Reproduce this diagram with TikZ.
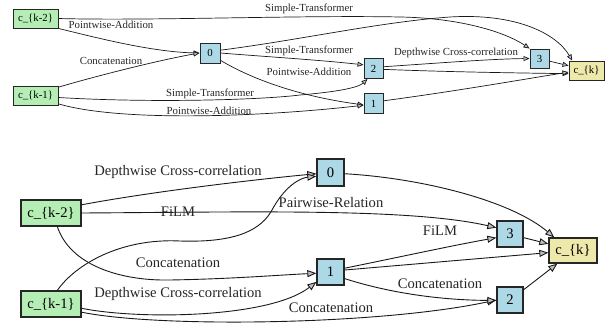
\documentclass[tikz,border=0pt]{standalone}
\usepackage{fontspec}
\setmainfont{Liberation Serif}
\usetikzlibrary{arrows.meta}
\definecolor{ingreen}{HTML}{B4EEB4}
\definecolor{midblue}{HTML}{ADD8E6}
\definecolor{outyellow}{HTML}{EEE8AA}
\definecolor{headgray}{HTML}{C0C0C0}
\tikzset{
  tnode/.style={draw=black!85, line width=0.95pt, inner sep=0pt, font=\fontsize{10.8}{12}\selectfont},
  bnode/.style={draw=black!85, line width=1.3pt, inner sep=0pt, font=\fontsize{14.6}{16}\selectfont},
  innode/.style={fill=ingreen},
  midnode/.style={fill=midblue},
  outnode/.style={fill=outyellow},
  tedge/.style={draw=black!90, line width=0.7pt, -{Triangle[length=6pt,width=5pt,fill=headgray]}},
  bedge/.style={draw=black!90, line width=0.9pt, -{Triangle[length=9pt,width=7pt,fill=headgray]}},
  tlab/.style={font=\fontsize{10.8}{12}\selectfont, inner sep=0pt, text=black!85},
  blab/.style={font=\fontsize{14.6}{16}\selectfont, inner sep=0pt, text=black!85},
}
\begin{document}
\begin{tikzpicture}[x=1pt,y=-1pt]
\useasboundingbox (0,0) rectangle (613,323);
% ---------- top cell ----------
\node[tnode,innode,minimum width=45pt,minimum height=19pt] (tk2) at (35.5,18.5) {c\_\{k-2\}};
\node[tnode,innode,minimum width=45pt,minimum height=19pt] (tk1) at (35.5,95.5) {c\_\{k-1\}};
\node[tnode,midnode,minimum width=20pt,minimum height=20pt] (t0) at (210,53) {0};
\node[tnode,midnode,minimum width=19pt,minimum height=20pt] (t2) at (373.5,68.5) {2};
\node[tnode,midnode,minimum width=19pt,minimum height=20pt] (t1) at (373.5,103.5) {1};
\node[tnode,midnode,minimum width=19pt,minimum height=19pt] (t3) at (539.5,58.5) {3};
\node[tnode,outnode,minimum width=35pt,minimum height=19pt] (tk) at (586.5,70.5) {c\_\{k\}};

\path[tedge] (tk2.east) .. controls (150,21) and (300,15) .. (400,17) .. controls (460,18) and (505,32) .. (t3.north west);
\path[tedge] (tk2.south east) .. controls (90,36) and (150,52) .. (t0.west);
\path[tedge] (tk1.20) .. controls (100,75) and (160,60) .. (t0.west);
\path[tedge] (t0.east) .. controls (270,57) and (320,60) .. (t2.160);
\path[tedge] (t0.-35) .. controls (245,75) and (290,95) .. (t1.-172);
\path[tedge] (t0.15) .. controls (300,40) and (380,22) .. (450,17) .. controls (515,13) and (556,33) .. (tk.145);
\path[tedge] (tk1.-5) .. controls (150,103) and (260,100) .. (300,95) .. controls (335,92) and (358,88) .. (t2.-120);
\path[tedge] (tk1.-20) .. controls (120,122) and (260,117) .. (t1.-170);
\path[tedge] (t2.10) .. controls (440,63) and (490,59) .. (t3.west);
\path[tedge] (t2.-5) .. controls (450,72) and (520,73) .. (tk.-170);
\path[tedge] (t3.-15) -- (tk.165);
\path[tedge] (t1.15) .. controls (450,92) and (520,80) .. (tk.-175);

\node[tlab] (tl1) at (309,9) {Simple-Transformer};
\node[tlab] (tl2) at (111,25) {Pointwise-Addition};
\node[tlab] (tl3) at (111,61) {Concatenation};
\node[tlab] (tl4) at (309,51) {Simple-Transformer};
\node[tlab] (tl5) at (309,72) {Pointwise-Addition};
\node[tlab] (tl6) at (210,94) {Simple-Transformer};
\node[tlab] (tl7) at (209,111) {Pointwise-Addition};
\node[tlab] (tl8) at (456,53) {Depthwise Cross-correlation};

% ---------- bottom cell ----------
\node[bnode,innode,minimum width=60pt,minimum height=26pt] (bk2) at (51,213) {c\_\{k-2\}};
\node[bnode,innode,minimum width=60pt,minimum height=26pt] (bk1) at (51,304) {c\_\{k-1\}};
\node[bnode,midnode,minimum width=27pt,minimum height=27pt] (b0) at (330.5,172.5) {0};
\node[bnode,midnode,minimum width=27pt,minimum height=26pt] (b1) at (330.5,272) {1};
\node[bnode,midnode,minimum width=26pt,minimum height=26pt] (b3) at (510,234) {3};
\node[bnode,midnode,minimum width=26pt,minimum height=26pt] (b2) at (510,300) {2};
\node[bnode,outnode,minimum width=48pt,minimum height=25pt] (bk) at (573,250.5) {c\_\{k\}};

\path[bedge] (bk2.15) .. controls (150,192) and (250,180) .. (b0.-175);
\path[bedge] (bk1.65) .. controls (75,265) and (120,238) .. (180,241) .. controls (240,243) and (262,228) .. (272,210) .. controls (285,186) and (300,178) .. (b0.-165);
\path[bedge] (bk2.east) .. controls (250,212) and (410,208) .. (b3.155);
\path[bedge] (bk2.-65) .. controls (70,265) and (120,281) .. (170,280) .. controls (230,279) and (280,275) .. (b1.-175);
\path[bedge] (bk1.-8) .. controls (140,320) and (270,318) .. (b1.-145);
\path[bedge] (bk1.-15) .. controls (160,328) and (380,325) .. (b2.west);
\path[bedge] (b1.15) .. controls (400,257) and (450,246) .. (b3.-165);
\path[bedge] (b1.8) -- (bk.-175);
\path[bedge] (b1.-25) .. controls (380,290) and (430,300) .. (b2.-178);
\path[bedge] (b0.-5) .. controls (420,178) and (510,200) .. (bk.145);
\path[bedge] (b3.-15) -- (bk.165);
\path[bedge] (b2.37) -- (bk.-140);

\node[blab] (bl1) at (178,172) {Depthwise Cross-correlation};
\node[blab] (bl2) at (178,212) {FiLM};
\node[blab] (bl3) at (331,203) {Pairwise-Relation};
\node[blab] (bl4) at (178,263) {Concatenation};
\node[blab] (bl5) at (178,294) {Depthwise Cross-correlation};
\node[blab] (bl6) at (331,308) {Concatenation};
\node[blab] (bl7) at (440,231) {FiLM};
\node[blab] (bl8) at (440,284) {Concatenation};
\end{tikzpicture}
\end{document}
